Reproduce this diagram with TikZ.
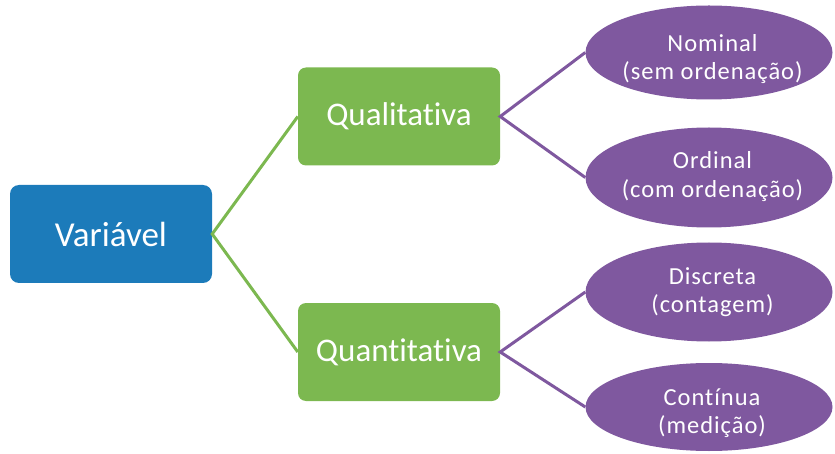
\documentclass[tikz,border=0pt]{standalone}
\usepackage{fontspec}
\setmainfont[Ligatures=NoCommon]{Carlito}
\newfontfamily\leaffont[Ligatures=NoCommon,LetterSpace=4]{Carlito}
\usetikzlibrary{shapes.geometric}
\definecolor{cblue}{HTML}{1C7BBA}
\definecolor{cgreen}{HTML}{7CB850}
\definecolor{cpurple}{HTML}{7F589F}
\tikzset{
  rootbox/.style={fill=cblue, rounded corners=9pt, minimum width=202pt, minimum height=98pt, inner sep=0pt, text=white, font=\fontsize{35}{40}\selectfont},
  midbox/.style={fill=cgreen, rounded corners=8pt, minimum width=202pt, minimum height=98pt, inner sep=0pt, text=white, font=\fontsize{33}{38}\selectfont},
  leaf/.style={ellipse, fill=cpurple, minimum width=247pt, inner sep=0pt},
  leaftext/.style={text=white, align=center, inner sep=0pt, font=\leaffont\fontsize{24.5}{28.5}\selectfont},
  gline/.style={draw=cgreen, line width=3pt},
  pline/.style={draw=cpurple, line width=3pt}
}
\begin{document}
\begin{tikzpicture}[x=1pt,y=-1pt]
\useasboundingbox (0,0) rectangle (835,454);
\node[rootbox] (var) at (111,234) {Variável};
\node[midbox] (qual) at (399,116.5) {Qualitativa};
\node[midbox] (quant) at (399,352) {Quantitativa};
\node[leaf, minimum height=94pt] (nom) at (709,52.5) {};
\node[leaf, minimum height=100pt] (ord) at (709,177.5) {};
\node[leaf, minimum height=99pt] (dis) at (709,292) {};
\node[leaf, minimum height=88pt] (con) at (709,407) {};
\node[leaftext] (nomt) at (712.5,59) {Nominal\\(sem ordenação)};
\node[leaftext] (ordt) at (712.5,176.5) {Ordinal\\(com ordenação)};
\node[leaftext] (dist) at (712.5,292) {Discreta\\(contagem)};
\node[leaftext] (cont) at (712,413) {Contínua\\(medição)};
\draw[gline] (qual.west) -- (var.east) -- (quant.west);
\draw[pline] (nom.west) -- (qual.east) -- (ord.west);
\draw[pline] (dis.west) -- (quant.east) -- (con.west);
\end{tikzpicture}
\end{document}
